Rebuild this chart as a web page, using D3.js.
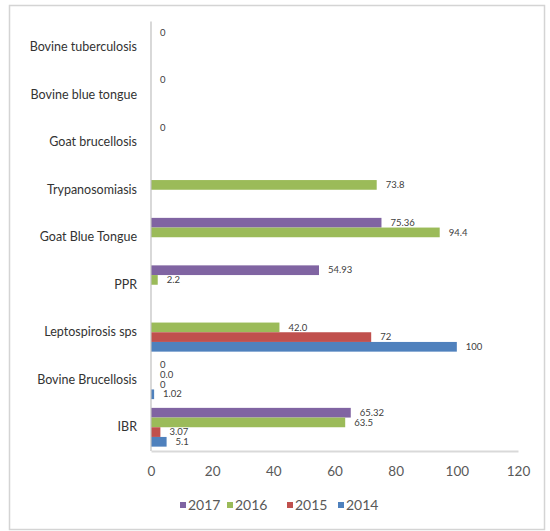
<!DOCTYPE html>
<html>
<head>
<meta charset="utf-8">
<script src="https://cdn.jsdelivr.net/npm/d3@7"></script>
<style>
  html, body { margin: 0; padding: 0; background: #fff; }
  svg { display: block; font-family: Lato, "Open Sans", "Liberation Sans", sans-serif; }
</style>
</head>
<body>
<svg id="chart" width="550" height="531"></svg>
<script>
// Disease categories, listed from the bottom of the chart upwards
const categories = [
  "IBR", "Bovine Brucellosis", "Leptospirosis sps", "PPR", "Goat Blue Tongue",
  "Trypanosomiasis", "Goat brucellosis", "Bovine blue tongue", "Bovine tuberculosis"
];

// Yearly series (same order as categories); null = no bar, no label
const years = ["2017", "2016", "2015", "2014"];
const values2017 = ["65.32", "0", null, "54.93", "75.36", null, "0", "0", "0"];
const values2016 = ["63.5", "0.0", "42.0", "2.2", "94.4", "73.8", null, null, null];
const values2015 = ["3.07", "0", "72", null, null, null, null, null, null];
const values2014 = ["5.1", "1.02", "100", null, null, null, null, null, null];
const seriesValues = [values2017, values2016, values2015, values2014];
const seriesColors = ["#8064A2", "#9BBB59", "#C0504D", "#4F81BD"];

const xTicks = [0, 20, 40, 60, 80, 100, 120];

const svg = d3.select("#chart");

// Outer chart frame
svg.append("rect")
  .attr("x", 9.5).attr("y", 5.5)
  .attr("width", 535).attr("height", 524)
  .attr("fill", "#fff")
  .attr("stroke", "#d4d4d4")
  .attr("stroke-width", 1.5);

const plot = { left: 151, right: 518, top: 23.5, bottom: 451 };

const x = d3.scaleLinear().domain([0, 120]).range([plot.left, plot.right]);

const y = d3.scaleBand()
  .domain(categories.slice().reverse())
  .range([plot.top, plot.bottom])
  .padding(0);

const ySub = d3.scaleBand()
  .domain(years)
  .range([0, y.bandwidth()])
  .paddingInner(0)
  .paddingOuter(0.45);

const color = d3.scaleOrdinal().domain(years).range(seriesColors);

// Flatten into records for drawing
const records = [];
years.forEach((yr, si) => {
  seriesValues[si].forEach((v, ci) => {
    if (v !== null) records.push({ year: yr, category: categories[ci], label: v, value: +v });
  });
});

// Bars
svg.append("g").selectAll("rect")
  .data(records)
  .join("rect")
  .attr("x", x(0))
  .attr("y", d => y(d.category) + ySub(d.year))
  .attr("width", d => x(d.value) - x(0))
  .attr("height", ySub.bandwidth())
  .attr("fill", d => color(d.year));

// Data labels
svg.append("g").selectAll("text")
  .data(records)
  .join("text")
  .attr("x", d => x(d.value) + 9)
  .attr("y", d => y(d.category) + ySub(d.year) + ySub.bandwidth() / 2)
  .attr("dy", "0.33em")
  .attr("font-size", 9.5)
  .attr("fill", "#404040")
  .text(d => d.label);

// Category axis
const yAxis = svg.append("g")
  .attr("transform", `translate(${plot.left},0)`)
  .call(d3.axisLeft(y).tickSize(0).tickPadding(14));
yAxis.select(".domain").attr("stroke", "#bfbfbf").attr("stroke-width", 1.2)
  .attr("d", `M0,${plot.top - 2}V${plot.bottom}`);
yAxis.selectAll("text")
  .attr("font-size", 12.5)
  .attr("font-family", "Lato, 'Open Sans', sans-serif")
  .attr("fill", "#333");

// Value axis
const xAxis = svg.append("g")
  .attr("transform", `translate(0,${plot.bottom})`)
  .call(d3.axisBottom(x).tickValues(xTicks).tickSize(0).tickPadding(15));
xAxis.select(".domain").attr("stroke", "#d9d9d9").attr("stroke-width", 2);
xAxis.selectAll("text")
  .attr("font-size", 13.5)
  .attr("font-family", "Lato, 'Open Sans', sans-serif")
  .attr("fill", "#595959");

// Legend
const legendX = [180, 227, 287, 338];
const legend = svg.append("g");
years.forEach((yr, i) => {
  const g = legend.append("g").attr("transform", `translate(${legendX[i]},505)`);
  g.append("rect").attr("x", 0).attr("y", -3).attr("width", 6).attr("height", 6)
    .attr("fill", color(yr));
  g.append("text").attr("x", 8).attr("y", 0).attr("dy", "0.35em")
    .attr("font-size", 14).attr("fill", "#595959").text(yr);
});
</script>
</body>
</html>
